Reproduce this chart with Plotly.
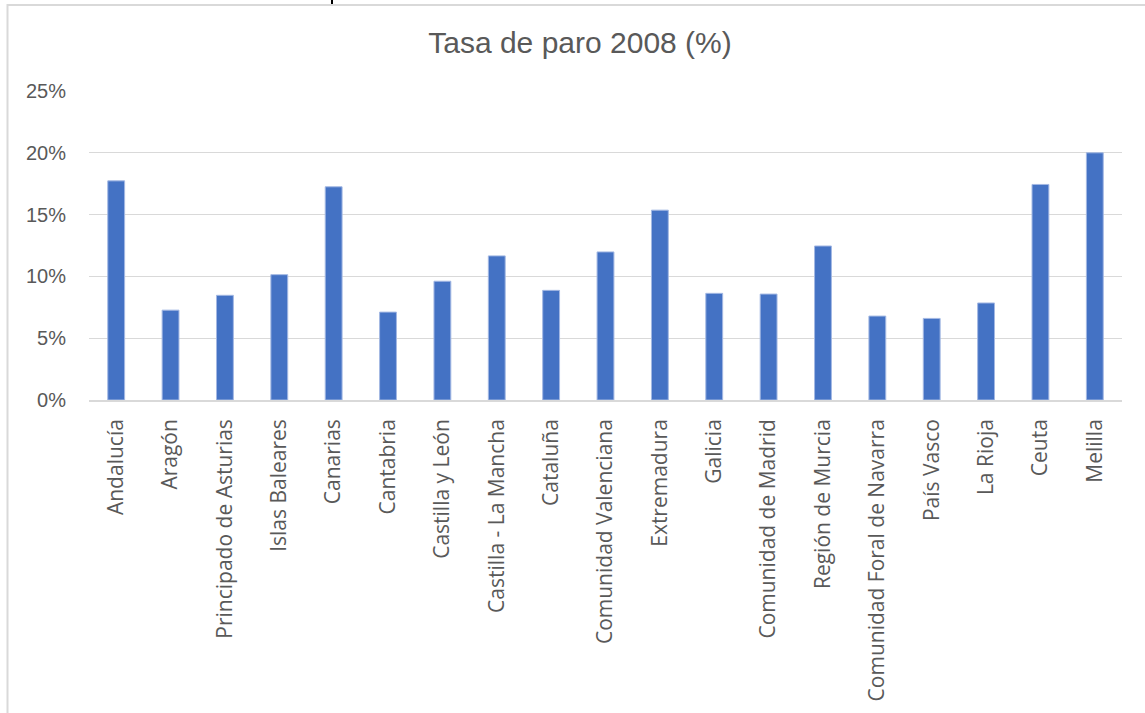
import plotly.graph_objects as go

# =============================================================================
# Data
# =============================================================================

regiones = [
    "Andalucía",
    "Aragón",
    "Principado de Asturias",
    "Islas Baleares",
    "Canarias",
    "Cantabria",
    "Castilla y León",
    "Castilla - La Mancha",
    "Cataluña",
    "Comunidad Valenciana",
    "Extremadura",
    "Galicia",
    "Comunidad de Madrid",
    "Región de Murcia",
    "Comunidad Foral de Navarra",
    "País Vasco",
    "La Rioja",
    "Ceuta",
    "Melilla",
]

tasa_paro = [
    17.73, 7.27, 8.47, 10.14, 17.25, 7.11, 9.61, 11.66, 8.87, 11.98,
    15.36, 8.63, 8.57, 12.46, 6.79, 6.60, 7.85, 17.44, 20.00,
]

y_ticks = [0, 5, 10, 15, 20, 25]
y_labels = ["0%", "5%", "10%", "15%", "20%", "25%"]

# =============================================================================
# Chart
# =============================================================================

W, H = 1145, 713
L, R, T, B = 89, 1122, 91, 404  # plot area in pixels

BLUE = "#4472C4"
GREY_TXT = "#595959"
GRID = "#d9d9d9"

fig = go.Figure()

fig.add_trace(
    go.Bar(
        x=regiones,
        y=tasa_paro,
        marker=dict(color=BLUE, line=dict(color="#a3b8e3", width=1)),
        hoverinfo="x+y",
    )
)


def px_x(p):
    return (p - L) / (R - L)


def px_y(p):
    return (B - p) / (B - T)


# chart frame (cropped screenshot, only top and left edges visible)
fig.add_shape(
    type="rect",
    xref="paper",
    yref="paper",
    x0=px_x(7.5),
    x1=px_x(1160),
    y0=px_y(730),
    y1=px_y(4),
    line=dict(color=GRID, width=2),
    layer="below",
)

# cut-off glyph from the text above the chart
fig.add_shape(
    type="line",
    xref="paper",
    yref="paper",
    x0=px_x(332),
    x1=px_x(332),
    y0=px_y(3),
    y1=px_y(-2),
    line=dict(color="black", width=2),
)

fig.update_xaxes(
    tickangle=-90,
    tickfont=dict(family="Open Sans", size=21, color=GREY_TXT),
    ticklabelstandoff=9,
    showgrid=False,
    showline=True,
    linecolor=GRID,
    linewidth=1.5,
    ticks="",
)

fig.update_yaxes(
    range=[0, 25],
    tickvals=y_ticks,
    ticktext=y_labels,
    tickfont=dict(family="Liberation Sans", size=20, color=GREY_TXT),
    ticklabelstandoff=22,
    showgrid=True,
    gridcolor=GRID,
    gridwidth=1.3,
    zeroline=False,
    showline=False,
    ticks="",
)

fig.update_layout(
    width=W,
    height=H,
    title=dict(
        text="Tasa de paro 2008 (%)",
        font=dict(family="Liberation Sans", size=30, color=GREY_TXT),
        x=580 / W,
        xref="container",
        xanchor="center",
        y=1 - 42 / H,
        yref="container",
        yanchor="middle",
    ),
    bargap=0.69,
    showlegend=False,
    plot_bgcolor="white",
    paper_bgcolor="white",
    margin=dict(l=L, r=W - R, t=T, b=H - B),
)

fig.write_html(
    "out.html",
    config={"displayModeBar": False},
    post_script="document.body.style.margin='0';document.body.style.overflow='hidden';",
)
